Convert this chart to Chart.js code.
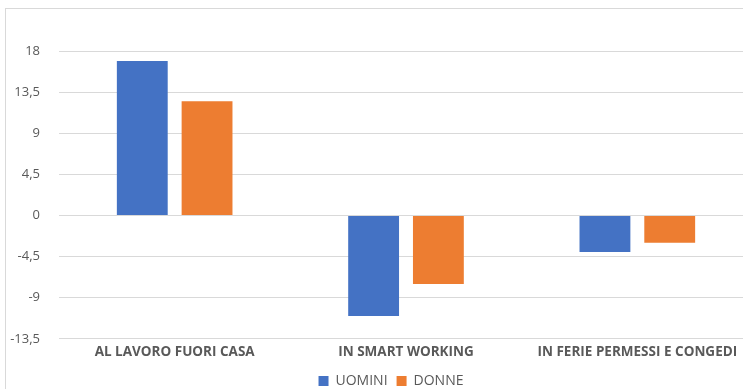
<!DOCTYPE html>
<html>
<head>
<meta charset="utf-8">
<script src="https://cdn.jsdelivr.net/npm/chart.js@4.4.1/dist/chart.umd.min.js"></script>
<style>
  html, body { margin: 0; padding: 0; background: #fff; overflow: hidden; }
  #frame {
    position: absolute; left: 5px; top: 8px; width: 800px; height: 400px;
    border-left: 1px solid #d9d9d9; border-top: 1px solid #d9d9d9;
  }
  #wrap { position: absolute; left: 0; top: 0; width: 777px; height: 389px; }
</style>
</head>
<body>
<div id="frame"></div>
<div id="wrap"><canvas id="chart"></canvas></div>
<script>
  var categories = ['AL LAVORO FUORI CASA', 'IN SMART WORKING', 'IN FERIE PERMESSI E CONGEDI'];
  var uomini = [16.9, -11.0, -4.0];
  var donne = [12.5, -7.5, -3.0];
  var seriesNames = ['UOMINI', 'DONNE'];

  var textColor = '#595959';
  var font = "'Open Sans', 'DejaVu Sans', sans-serif";

  var ctx = document.getElementById('chart').getContext('2d');
  var chart = new Chart(ctx, {
    type: 'bar',
    data: {
      labels: categories,
      datasets: [{
        label: seriesNames[0],
        data: uomini,
        backgroundColor: '#4472C4',
        categoryPercentage: 0.56,
        barPercentage: 0.785
      }, {
        label: seriesNames[1],
        data: donne,
        backgroundColor: '#ED7D31',
        categoryPercentage: 0.56,
        barPercentage: 0.785
      }]
    },
    options: {
      responsive: true,
      maintainAspectRatio: false,
      animation: false,
      layout: { padding: { left: 5, top: 51, bottom: -9, right: 0 } },
      plugins: {
        tooltip: { enabled: false },
        legend: {
          position: 'bottom',
          labels: {
            boxWidth: 10, boxHeight: 10, padding: 9,
            color: textColor,
            font: { family: font, size: 14 }
          }
        }
      },
      scales: {
        x: {
          grid: { display: false, drawTicks: false },
          border: { display: false },
          ticks: {
            color: textColor, padding: 5,
            maxRotation: 0,
            font: { family: font, size: 13.5, weight: 'bold' }
          }
        },
        y: {
          min: -13.5,
          max: 18,
          afterFit: function(scale) { scale.width = 54; },
          grid: { color: '#d9d9d9', drawTicks: false },
          border: { display: false },
          ticks: {
            stepSize: 4.5,
            color: textColor,
            padding: 19,
            font: { family: font, size: 13 },
            callback: function(v) { return String(v).replace('.', ','); }
          }
        },
        // empty axis on the right keeps room beside the plot
        yr: {
          position: 'right',
          display: true,
          afterFit: function(scale) { scale.width = 24; },
          grid: { display: false, drawTicks: false },
          border: { display: false },
          ticks: { display: false }
        }
      }
    }
  });
</script>
</body>
</html>
